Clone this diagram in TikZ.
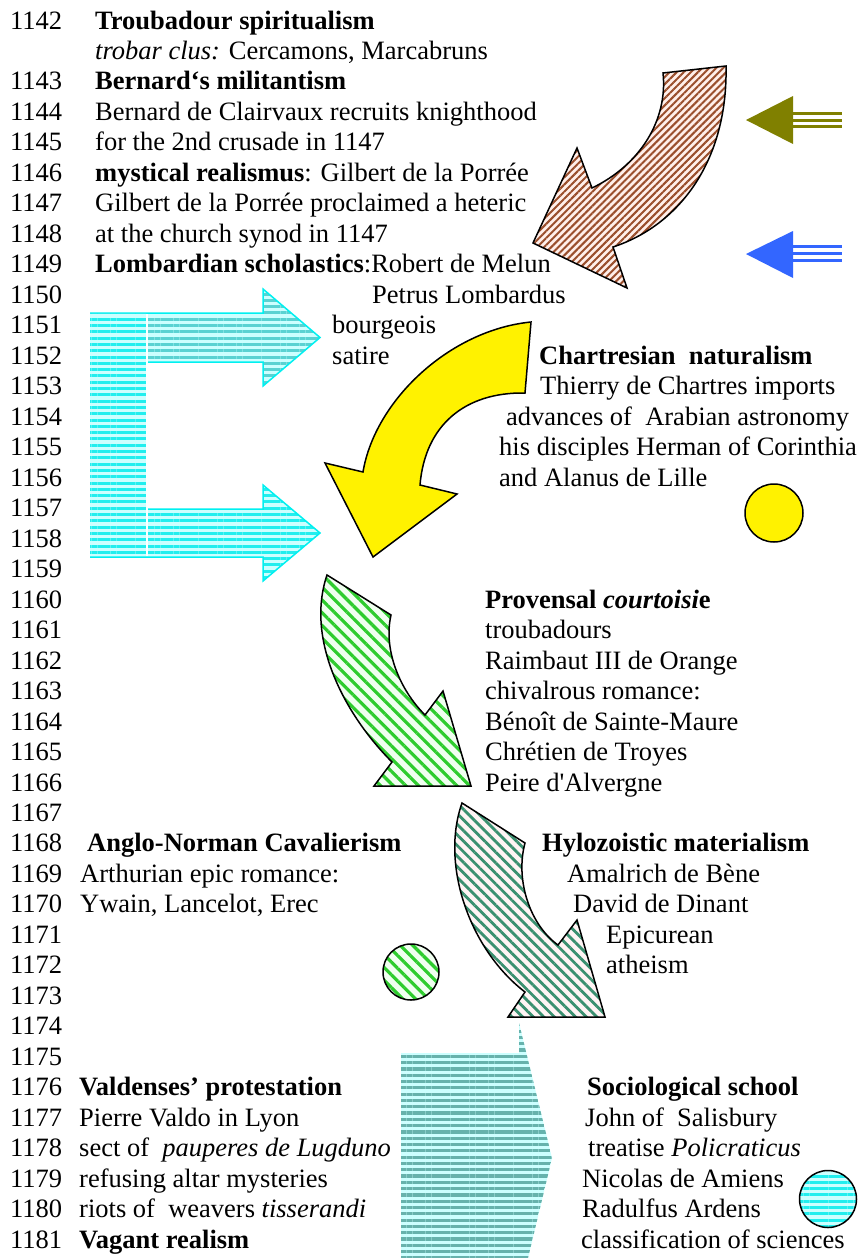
\documentclass[tikz,border=0pt]{standalone}
\usepackage{fontspec}
\setmainfont{Liberation Serif}[Ligatures=TeXOff]
\usetikzlibrary{patterns.meta}

\definecolor{brownln}{HTML}{9A4E2C}
\definecolor{brownbg}{HTML}{FFEFEA}
\definecolor{grnln}{HTML}{2ECC2E}
\definecolor{grnbg}{HTML}{F0FFF0}
\definecolor{dgrnln}{HTML}{3A9070}
\definecolor{dgrnbg}{HTML}{FFF4F4}
\definecolor{cyanln}{HTML}{22EEEE}
\definecolor{cyanbg}{HTML}{CCFFFF}
\definecolor{cyandk}{HTML}{5AD2D2}
\definecolor{tealln}{HTML}{66B2AC}
\definecolor{tealbg}{HTML}{CCFFFF}
\definecolor{olivearr}{HTML}{808000}
\definecolor{bluearr}{HTML}{3366FF}
\definecolor{cyanedge}{HTML}{00F0F0}

\newcommand\txtsize{\fontsize{26.5}{30}\selectfont}

\begin{document}
\begin{tikzpicture}[x=1pt,y=-1pt,
  txt/.style={anchor=base west,inner sep=0pt,font=\txtsize},
  outline/.style={draw=black,line width=1.5pt,line join=miter},
  brownfill/.style={preaction={fill=brownbg},pattern={Lines[angle=45,distance=5pt,line width=2pt]},pattern color=brownln},
  grnfill/.style={preaction={fill=grnbg},pattern={Lines[angle=-45,distance=9pt,line width=3.2pt]},pattern color=grnln},
  dgrnfill/.style={preaction={fill=dgrnbg},pattern={Lines[angle=-45,distance=7.5pt,line width=2.8pt]},pattern color=dgrnln},
  cyanfill/.style={preaction={fill=cyanbg},pattern={Lines[angle=0,distance=6.3pt,line width=3pt]},pattern color=cyanln},
  cyandkfill/.style={preaction={fill=cyanbg},pattern={Lines[angle=0,distance=6.3pt,line width=3pt]},pattern color=cyandk},
  tealfill/.style={preaction={fill=tealbg},pattern={Lines[angle=0,distance=6.3pt,line width=3.2pt]},pattern color=tealln},
  cyanedgeline/.style={draw=cyanedge,line width=1.5pt},
  shaft/.style={line width=3pt}
]
\path[fill=white,use as bounding box] (0,0) rectangle (866,1258);

% curved brown arrow
\draw[outline,brownfill] (663,73) -- (726,66)
  .. controls (728,160) and (680,225) .. (613,247)
  -- (627,288) -- (533,243) -- (577,148) -- (592,188)
  .. controls (640,165) and (668,120) .. (663,73) -- cycle;

% small left-pointing arrows
\fill[olivearr] (746,120) -- (793,96) -- (793,144) -- cycle;
\foreach \yy in {113.3,120,126.7}
  \draw[olivearr,shaft] (792,\yy) -- (842,\yy);
\fill[bluearr] (746,254) -- (793,231) -- (793,278) -- cycle;
\foreach \yy in {246.7,253.3,260}
  \draw[bluearr,shaft] (792,\yy) -- (842,\yy);

% cyan bracket arrows
\fill[cyandkfill] (90,313) -- (263,313) -- (263,289) -- (320,337.5) -- (263,386) -- (263,362) -- (90,362) -- cycle;
\draw[cyanedgeline] (90,313) -- (263,313) -- (263,289) -- (320,337.5) -- (263,386) -- (263,362) -- (147,362);
\fill[cyanfill] (90,509) -- (263,509) -- (263,485) -- (320,533) -- (263,581) -- (263,557) -- (90,557) -- cycle;
\draw[cyanedgeline] (147,509) -- (263,509) -- (263,485) -- (320,533) -- (263,581) -- (263,557) -- (90,557);
\fill[cyanfill] (90,313.8) rectangle (146.3,556.2);
\draw[white,line width=1.2pt] (147,313.8) -- (147,556.2);

% yellow curved arrow
\draw[outline,fill=yellow] (531,322) -- (525,393)
  .. controls (465,392) and (425,425) .. (420,485)
  -- (457,494) -- (373,557) -- (325,463) -- (363,472)
  .. controls (375,400) and (450,330) .. (531,322) -- cycle;

% light green curved arrow
\draw[outline,grnfill] (327,575) -- (391,615)
  .. controls (383,650) and (400,690) .. (425,715)
  -- (443,691) -- (471,786) -- (374,786) -- (392,762)
  .. controls (345,715) and (305,640) .. (327,575) -- cycle;

% dark green curved arrow
\draw[outline,dgrnfill] (462,803) -- (525,843)
  .. controls (515,880) and (530,925) .. (558,945)
  -- (577,920) -- (605,1017) -- (508,1017) -- (525,992)
  .. controls (470,950) and (440,865) .. (462,803) -- cycle;

% teal pentagon
\fill[tealfill] (401,1053) -- (519,1053) -- (519,1023) -- (552,1158) -- (528,1258) -- (401,1258) -- cycle;

% circles
\draw[outline,fill=yellow] (774,513) circle[radius=29pt];
\draw[outline,grnfill] (411,972) circle[radius=28pt];
\draw[outline,cyanfill] (828,1199) circle[radius=28.5pt];

% years
\node[txt] (yr1142) at (10,29) {1142};
\foreach \yr [count=\k from 2] in {1143,...,1181}
  \node[txt] (yr\yr) at (10,{29+30.48*\k}) {\yr};

% left column
\node[txt] (l0) at (95,29) {\textbf{Troubadour spiritualism}};
\node[txt] (l1) at (95,{29+30.48*1}) {\textit{trobar clus:} Cercamons, Marcabruns};
\node[txt] (l2) at (95,{29+30.48*2}) {\textbf{Bernard‘s militantism}};
\node[txt] (l3) at (95,{29+30.48*3}) {Bernard de Clairvaux recruits knighthood};
\node[txt] (l4) at (95,{29+30.48*4}) {for the 2nd crusade in 1147};
\node[txt] (l5) at (95,{29+30.48*5}) {\textbf{mystical realismus}: Gilbert de la Porrée};
\node[txt] (l6) at (95,{29+30.48*6}) {Gilbert de la Porrée proclaimed a heteric};
\node[txt] (l7) at (95,{29+30.48*7}) {at the church synod in 1147};
\node[txt] (l8) at (95,{29+30.48*8}) {\textbf{Lombardian scholastics}:Robert de Melun};
\node[txt] (l9) at (372,{29+30.48*9}) {Petrus Lombardus};
\node[txt] (l10) at (332,{29+30.48*10}) {bourgeois};
\node[txt] (l11) at (332,{29+30.48*11}) {satire};

% Chartres group
\node[txt] (c0) at (539,{29+30.48*11}) {\textbf{Chartresian\ \ naturalism}};
\node[txt] (c1) at (540,{29+30.48*12}) {Thierry de Chartres imports};
\node[txt] (c2) at (506,{29+30.48*13}) {advances of\ \ Arabian astronomy};
\node[txt] (c3) at (499,{29+30.48*14}) {his disciples Herman of Corinthia};
\node[txt] (c4) at (499,{29+30.48*15}) {and Alanus de Lille};

% Provence group
\node[txt] (p0) at (485,{29+30.48*19}) {\textbf{Provensal \textit{courtoisi}e}};
\node[txt] (p1) at (485,{29+30.48*20}) {troubadours};
\node[txt] (p2) at (485,{29+30.48*21}) {Raimbaut III de Orange};
\node[txt] (p3) at (485,{29+30.48*22}) {chivalrous romance:};
\node[txt] (p4) at (485,{29+30.48*23}) {Bénoît de Sainte-Maure};
\node[txt] (p5) at (485,{29+30.48*24}) {Chrétien de Troyes};
\node[txt] (p6) at (485,{29+30.48*25}) {Peire d'Alvergne};

% Anglo-Norman group
\node[txt] (a0) at (87,{29+30.48*27}) {\textbf{Anglo-Norman Cavalierism}};
\node[txt] (a1) at (80,{29+30.48*28}) {Arthurian epic romance:};
\node[txt] (a2) at (80,{29+30.48*29}) {Ywain, Lancelot, Erec};

% Hylozoistic group
\node[txt] (h0) at (542,{29+30.48*27}) {\textbf{Hylozoistic materialism}};
\node[txt] (h1) at (567,{29+30.48*28}) {Amalrich de Bène};
\node[txt] (h2) at (573,{29+30.48*29}) {David de Dinant};
\node[txt] (h3) at (606,{29+30.48*30}) {Epicurean};
\node[txt] (h4) at (606,{29+30.48*31}) {atheism};

% Valdenses group
\node[txt] (v0) at (79,{29+30.48*35}) {\textbf{Valdenses’ protestation}};
\node[txt] (v1) at (79,{29+30.48*36}) {Pierre Valdo in Lyon};
\node[txt] (v2) at (79,{29+30.48*37}) {sect of\ \ \textit{pauperes de Lugduno}};
\node[txt] (v3) at (79,{29+30.48*38}) {refusing altar mysteries};
\node[txt] (v4) at (79,{29+30.48*39}) {riots of\ \ weavers \textit{tisserandi}};
\node[txt] (v5) at (79,{29+30.48*40}) {\textbf{Vagant realism}};

% Sociological group
\node[txt] (s0) at (587,{29+30.48*35}) {\textbf{Sociological school}};
\node[txt] (s1) at (585,{29+30.48*36}) {John of\ \ Salisbury};
\node[txt] (s2) at (588,{29+30.48*37}) {treatise \textit{Policraticus}};
\node[txt] (s3) at (582,{29+30.48*38}) {Nicolas de Amiens};
\node[txt] (s4) at (582,{29+30.48*39}) {Radulfus Ardens};
\node[txt] (s5) at (581,{29+30.48*40}) {classification of sciences};
\end{tikzpicture}
\end{document}
